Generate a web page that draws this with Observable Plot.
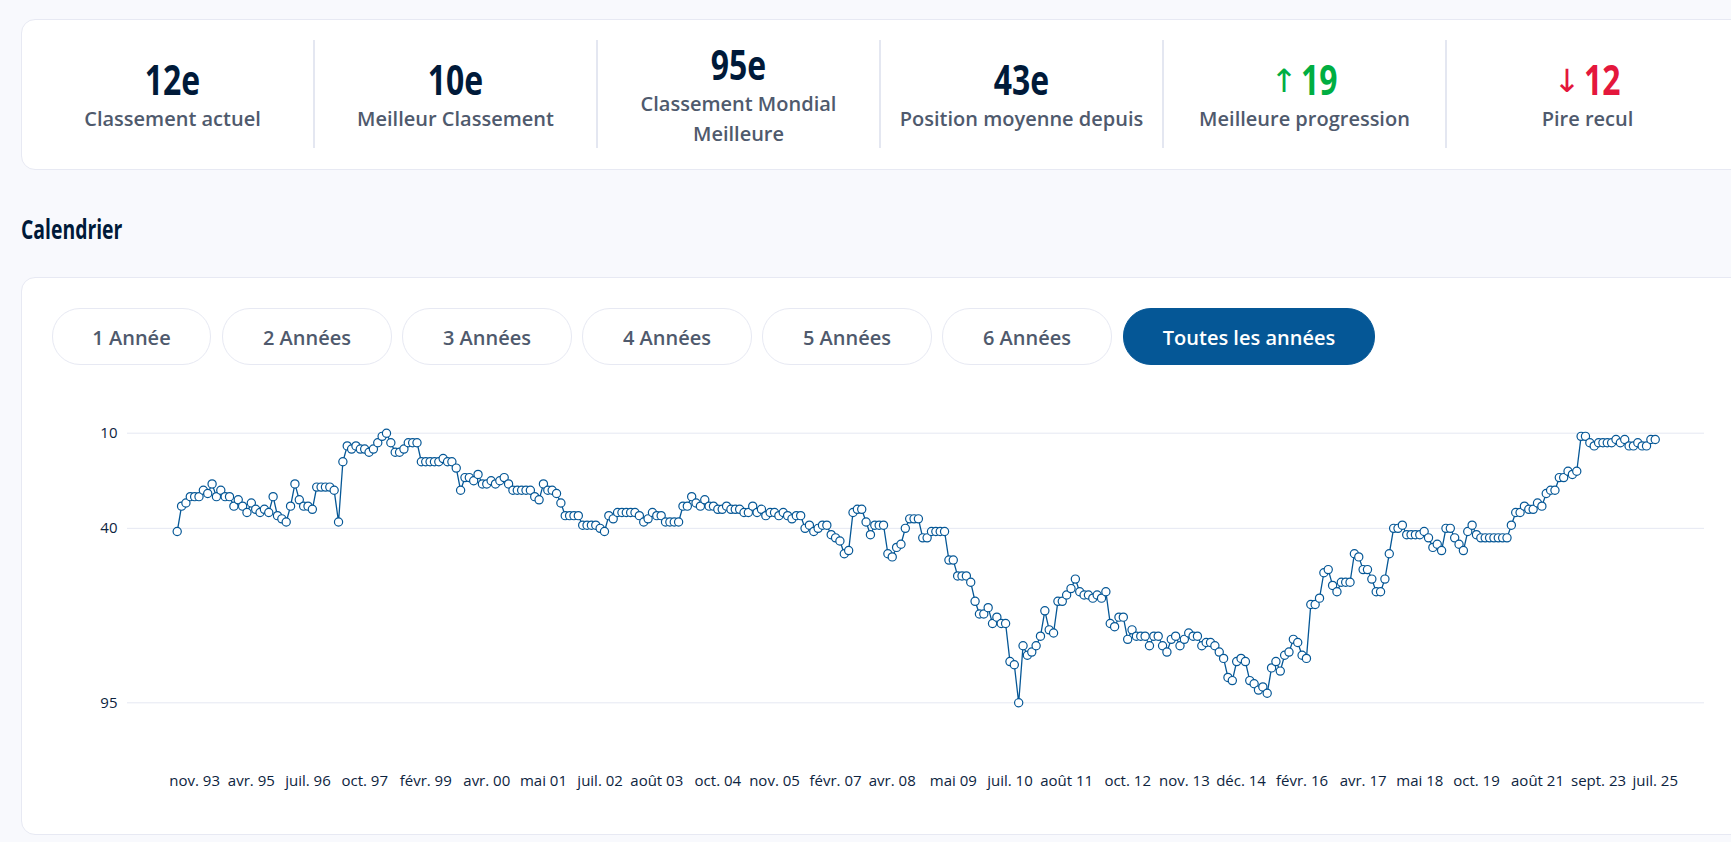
<!DOCTYPE html>
<html lang="fr">
<head>
<meta charset="utf-8">
<script src="https://cdn.jsdelivr.net/npm/d3@7"></script>
<script src="https://cdn.jsdelivr.net/npm/@observablehq/plot@0.6"></script>
<style>
html,body{margin:0;padding:0;width:1731px;height:842px;overflow:hidden;background:#f8f9fd;font-family:"Open Sans","Noto Sans",sans-serif;}
.card{position:absolute;left:21px;width:1760px;background:#fff;border:1px solid #e7e9f3;border-radius:14px;box-sizing:border-box;}
#stats{top:19px;height:151px;}
#cal{top:277px;height:558px;}
.divider{position:absolute;top:40px;height:108px;width:2px;background:#e4e7f1;}
.stat{position:absolute;top:39px;height:109px;width:283px;display:flex;flex-direction:column;align-items:center;justify-content:center;text-align:center;}
.val{font-family:"Open Sans",sans-serif;font-weight:700;font-size:42px;line-height:50px;color:#001a39;transform:scaleX(.76);white-space:nowrap;}
.lab{font-family:"Open Sans",sans-serif;font-weight:600;font-size:20px;line-height:30px;color:#4f5a6d;width:283px;margin-top:0;}
.arrow{font-family:"DejaVu Sans",sans-serif;font-weight:400;font-size:32px;line-height:30px;display:inline-block;margin-right:12px;vertical-align:3px;position:relative;left:3px;transform:scaleX(1.35);}
#heading{position:absolute;left:21px;top:212px;font-family:"Open Sans",sans-serif;font-weight:700;font-size:26px;line-height:34px;color:#001a39;transform:scaleX(.745);transform-origin:left center;}
.btn{position:absolute;top:308px;height:57px;box-sizing:border-box;border:1px solid #e7e9f3;border-radius:28px;background:#fff;color:#4f5a6d;font-weight:600;font-size:20px;padding-top:1px;display:flex;align-items:center;justify-content:center;}
.btn.on{background:#055796;border-color:#055796;color:#fff;font-weight:600;}
#chart{position:absolute;left:0;top:400px;}
</style>
</head>
<body>
<div class="card" id="stats"></div>
<div id="heading">Calendrier</div>
<div class="card" id="cal"></div>
<div id="chart"></div>
<script>
// Stat tiles
const statValues = ["12e", "10e", "95e", "43e", "19", "12"];
const statLabels = ["Classement actuel", "Meilleur Classement", "Classement Mondial Meilleure", "Position moyenne depuis", "Meilleure progression", "Pire recul"];
const statArrows = ["", "", "", "", "↑", "↓"];
const statColors = ["#001a39", "#001a39", "#001a39", "#001a39", "#00ae42", "#e4173c"];

// Period buttons
const buttonLabels = ["1 Année", "2 Années", "3 Années", "4 Années", "5 Années", "6 Années", "Toutes les années"];
const buttonLeft = [52, 222, 402, 582, 762, 942, 1123];
const buttonWidth = [159, 170, 170, 170, 170, 170, 252];

// Ranking, one value per published ranking (index = position along the x axis)
const ranks = [
41,33,32,30,30,30,28,29,26,30,28,30,30,33,31,33,35,32,34,35,34,35,30,36,37,38,33,26,31,33,33,34,27,27,27,27,28,38,19,14,
15,14,15,15,16,15,13,11,10,13,16,16,15,13,13,13,19,19,19,19,19,18,19,19,21,28,24,24,25,23,26,26,25,26,25,24,26,28,28,28,
28,28,30,31,26,28,28,29,32,36,36,36,36,39,39,39,39,40,41,36,37,35,35,35,35,35,36,38,37,35,36,36,38,38,38,38,33,33,30,32,
33,31,33,33,34,34,33,34,34,34,35,35,33,35,34,36,35,35,36,35,36,37,36,36,40,39,41,40,39,39,42,43,44,48,47,35,34,34,38,42,
39,39,39,48,49,46,45,40,37,37,37,43,43,41,41,41,41,50,50,55,55,55,57,63,67,67,65,70,68,70,70,82,83,95,77,80,79,77,74,66,
72,73,63,63,61,59,56,60,61,61,62,61,62,60,70,71,68,68,75,72,74,74,74,77,74,74,77,79,75,74,77,75,73,74,74,77,76,76,77,79,
81,87,88,82,81,82,88,89,91,90,92,84,82,85,80,79,75,76,80,81,64,64,62,54,53,58,60,57,57,57,48,49,53,53,56,60,60,56,48,40,
40,39,42,42,42,42,41,43,46,45,47,40,40,43,45,47,41,39,42,43,43,43,43,43,43,43,39,35,35,33,34,34,32,33,29,28,28,24,24,22,
23,22,11,11,13,14,13,13,13,13,12,13,12,14,14,13,14,14,12,12
];

// X axis labels and the ranking index each one sits at
const tickIndex = [4,17,30,43,57,71,84,97,110,124,137,151,164,178,191,204,218,231,244,258,272,285,298,312,326,339];
const tickLabels = ["nov. 93","avr. 95","juil. 96","oct. 97","févr. 99","avr. 00","mai 01","juil. 02","août 03","oct. 04","nov. 05","févr. 07","avr. 08","mai 09","juil. 10","août 11","oct. 12","nov. 13","déc. 14","févr. 16","avr. 17","mai 18","oct. 19","août 21","sept. 23","juil. 25"];
const yTicks = [10, 40, 95];

// HTML chrome
const colLeft = 31, colWidth = 283;
statValues.forEach((v, i) => {
  const s = document.createElement("div");
  s.className = "stat";
  s.style.left = (colLeft + i * colWidth) + "px";
  const val = document.createElement("div");
  val.className = "val";
  val.style.color = statColors[i];
  if (statArrows[i]) {
    const a = document.createElement("span");
    a.className = "arrow";
    a.textContent = statArrows[i];
    val.appendChild(a);
  }
  val.appendChild(document.createTextNode(v));
  const lab = document.createElement("div");
  lab.className = "lab";
  lab.textContent = statLabels[i];
  if (i === 2) lab.style.padding = "0 30px", lab.style.boxSizing = "border-box";
  s.append(val, lab);
  document.body.appendChild(s);
  if (i < statValues.length - 1) {
    const d = document.createElement("div");
    d.className = "divider";
    d.style.left = (colLeft + (i + 1) * colWidth - 1) + "px";
    document.body.appendChild(d);
  }
});
buttonLabels.forEach((t, i) => {
  const b = document.createElement("div");
  b.className = "btn" + (i === buttonLabels.length - 1 ? " on" : "");
  b.textContent = t;
  b.style.left = buttonLeft[i] + "px";
  b.style.width = buttonWidth[i] + "px";
  document.body.appendChild(b);
});

// Chart
const indexOf = (d, i) => i;
const plot = Plot.plot({
  width: 1731,
  height: 400,
  marginLeft: 127,
  marginRight: 27,
  marginTop: 0,
  marginBottom: 40,
  style: {fontFamily: '"Open Sans", sans-serif', fontSize: "15px", color: "#0d2440", background: "transparent", overflow: "visible"},
  x: {type: "linear", domain: [-11.4, 350.3]},
  y: {domain: [10, 95], range: [32.7, 302.3]},
  marks: [
    Plot.ruleY(yTicks, {stroke: "#e5e8f2", strokeWidth: 1, strokeOpacity: 1}),
    Plot.axisY({ticks: yTicks, tickSize: 0, tickPadding: 10, label: null, fontSize: 15, tickFormat: d => String(d)}),
    Plot.axisX({ticks: tickIndex, tickSize: 0, tickPadding: 15, label: null, fontSize: 15, tickFormat: d => tickLabels[tickIndex.indexOf(d)]}),
    Plot.line(ranks, {x: indexOf, y: d => d, stroke: "#055796", strokeWidth: 1.3}),
    Plot.dot(ranks, {x: indexOf, y: d => d, r: 4.1, fill: "#fff", stroke: "#055796", strokeWidth: 1.2})
  ]
});
document.getElementById("chart").appendChild(plot);
</script>
</body>
</html>
